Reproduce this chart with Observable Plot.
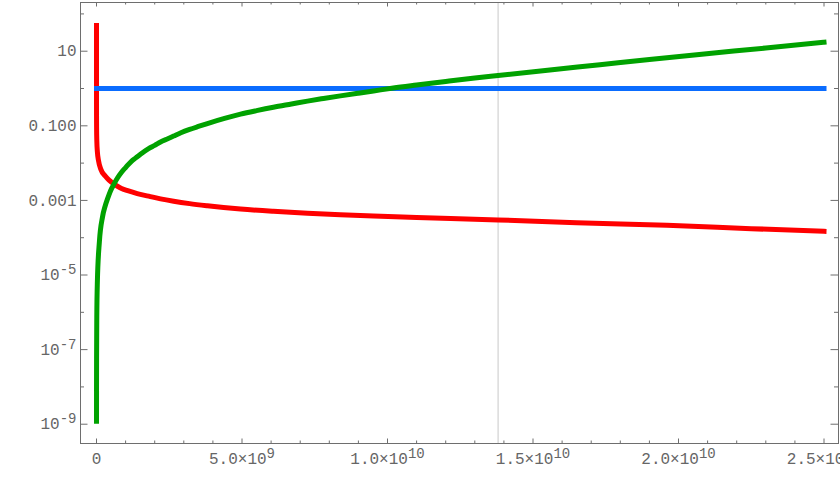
<!DOCTYPE html>
<html>
<head>
<meta charset="utf-8">
<script src="https://cdn.jsdelivr.net/npm/d3@7"></script>
<script src="https://cdn.jsdelivr.net/npm/@observablehq/plot@0.6"></script>
<style>
  html, body { margin: 0; padding: 0; background: white; overflow: hidden; }
</style>
</head>
<body>
<div id="chart"></div>
<script>
// ---- data ----
const redTime = [1e3, 1e4, 1e5, 3e5, 1e6, 3e6, 1e7, 3e7, 6.9e7, 1.5e8, 3.0e8, 4.3e8, 5.84e8, 7.2e8, 8.6e8, 1.1e9, 1.4e9, 1.79e9, 2.2e9, 2.65e9, 3.2e9, 3.81e9, 4.95e9, 6.08e9, 7.25e9, 8.38e9, 9.52e9, 1.1e10, 1.38e10, 1.65e10, 1.96e10, 2.25e10, 2.5e10];
const redValue = [49, 6, 1.1, 0.4, 0.19, 0.092, 0.041, 0.02, 0.0117, 0.0068, 4.5e-3, 3.5e-3, 2.8e-3, 2.4e-3, 2.1e-3, 1.8e-3, 1.52e-3, 1.3e-3, 1.1e-3, 9.5e-4, 8.2e-4, 7.2e-4, 5.9e-4, 5.1e-4, 4.5e-4, 4.1e-4, 3.8e-4, 3.5e-4, 3.0e-4, 2.5e-4, 2.15e-4, 1.75e-4, 1.48e-4];

const blueTime = [0, 2.5e10];
const blueValue = [1, 1];

const greenTime = [3e5, 1e6, 3e6, 1e7, 3e7, 1e8, 2.06e8, 3.0e8, 3.78e8, 4.8e8, 5.84e8, 7.2e8, 8.6e8, 1.0e9, 1.2e9, 1.35e9, 1.51e9, 1.79e9, 2.0e9, 2.2e9, 2.45e9, 2.65e9, 2.9e9, 3.2e9, 3.5e9, 3.81e9, 4.4e9, 4.95e9, 5.5e9, 6.08e9, 6.7e9, 7.25e9, 7.8e9, 8.38e9, 9.0e9, 9.52e9, 1.02e10, 1.1e10, 1.2e10, 1.3e10, 1.38e10, 1.55e10, 1.73e10, 1.9e10, 2.08e10, 2.3e10, 2.5e10];
const greenValue = [1.2e-9, 8e-9, 7e-8, 7.5e-7, 6.7e-6, 8e-5, 3.6e-4, 7.2e-4, 1.1e-3, 1.8e-3, 2.6e-3, 4.0e-3, 5.7e-3, 7.6e-3, 0.0112, 0.0138, 0.0173, 0.0245, 0.030, 0.037, 0.045, 0.053, 0.065, 0.080, 0.096, 0.115, 0.158, 0.205, 0.255, 0.315, 0.385, 0.46, 0.54, 0.635, 0.75, 0.86, 1.03, 1.24, 1.55, 1.92, 2.24, 3.1, 4.35, 6.0, 8.3, 12.2, 17.5];

const markerTime = [1.38e10];

const xTickValues = [0, 5e9, 1e10, 1.5e10, 2e10, 2.5e10];
const xTickLabels = ["0", "5.0×10^9", "1.0×10^10", "1.5×10^10", "2.0×10^10", "2.5×10^10"];
const xMinorValues = d3.range(0, 26).map(i => i * 1e9).filter(v => !xTickValues.includes(v));

const yTickValues = [10, 0.1, 0.001, 1e-5, 1e-7, 1e-9];
const yTickLabels = ["10", "0.100", "0.001", "10^-5", "10^-7", "10^-9"];
const yMinorValues = [100, 1, 0.01, 1e-4, 1e-6, 1e-8];

// ---- build tables ----
const toRows = (ts, vs) => ts.map((t, i) => ({t, v: vs[i]}));
const red = toRows(redTime, redValue);
const blue = toRows(blueTime, blueValue);
const green = toRows(greenTime, greenValue);

const W = 840, H = 480;
const mL = 80, mR = 2, mT = 2, mB = 37;
const plotW = W - mL - mR, plotH = H - mT - mB;
const frameColor = "#6e6e6e";

const chart = Plot.plot({
  width: W,
  height: H,
  marginLeft: mL,
  marginRight: mR,
  marginTop: mT,
  marginBottom: mB,
  style: {fontFamily: "Liberation Mono", fontSize: "16px", color: "#666666", background: "white"},
  x: {domain: [-5.5e8, 2.5498e10], axis: null},
  y: {type: "log", domain: [Math.pow(10, -9.517), Math.pow(10, 2.306)], axis: null},
  marks: [
    Plot.ruleX(markerTime, {x: d => d, stroke: "#c8c8c8", strokeWidth: 1}),
    Plot.line(red, {x: "t", y: "v", stroke: "#ff0000", strokeWidth: 5, strokeLinecap: "square", strokeLinejoin: "round", curve: "monotone-x"}),
    Plot.line(blue, {x: "t", y: "v", stroke: "#0a6cff", strokeWidth: 5, strokeLinecap: "square"}),
    Plot.line(green, {x: "t", y: "v", stroke: "#00a200", strokeWidth: 5, strokeLinecap: "square", strokeLinejoin: "round", curve: "monotone-x"}),
    Plot.frame({stroke: frameColor, strokeWidth: 1}),
    // inward ticks: bottom / top
    Plot.tickX(xTickValues, {x: d => d, stroke: frameColor, insetTop: plotH - 4.5}),
    Plot.tickX(xMinorValues, {x: d => d, stroke: frameColor, insetTop: plotH - 2.5}),
    Plot.tickX(xTickValues, {x: d => d, stroke: frameColor, insetBottom: plotH - 4.5}),
    Plot.tickX(xMinorValues, {x: d => d, stroke: frameColor, insetBottom: plotH - 2.5}),
    // inward ticks: left / right
    Plot.tickY(yTickValues, {y: d => d, stroke: frameColor, insetRight: plotW - 7.5}),
    Plot.tickY(yMinorValues, {y: d => d, stroke: frameColor, insetRight: plotW - 4}),
    Plot.tickY(yTickValues, {y: d => d, stroke: frameColor, insetLeft: plotW - 7.5}),
    Plot.tickY(yMinorValues, {y: d => d, stroke: frameColor, insetLeft: plotW - 4}),
    // labels
    Plot.axisX({ticks: xTickValues, tickSize: 0, tickPadding: 9, tickFormat: d => xTickLabels[xTickValues.indexOf(d)], label: null, fontSize: 16}),
    Plot.axisY({ticks: yTickValues, tickSize: 0, tickPadding: 4, tickFormat: d => yTickLabels[yTickValues.indexOf(d)], label: null, fontSize: 16})
  ]
});

// render "^" as superscripts
chart.querySelectorAll("text").forEach(t => {
  const s = t.textContent;
  if (s.includes("^")) {
    const [base, sup] = s.split("^");
    t.textContent = "";
    const ns = "http://www.w3.org/2000/svg";
    const a = document.createElementNS(ns, "tspan");
    a.textContent = base;
    const b = document.createElementNS(ns, "tspan");
    b.textContent = sup;
    b.setAttribute("font-size", "14");
    b.setAttribute("dy", "-6");
    t.appendChild(a);
    t.appendChild(b);
  }
});

document.getElementById("chart").appendChild(chart);
</script>
</body>
</html>
